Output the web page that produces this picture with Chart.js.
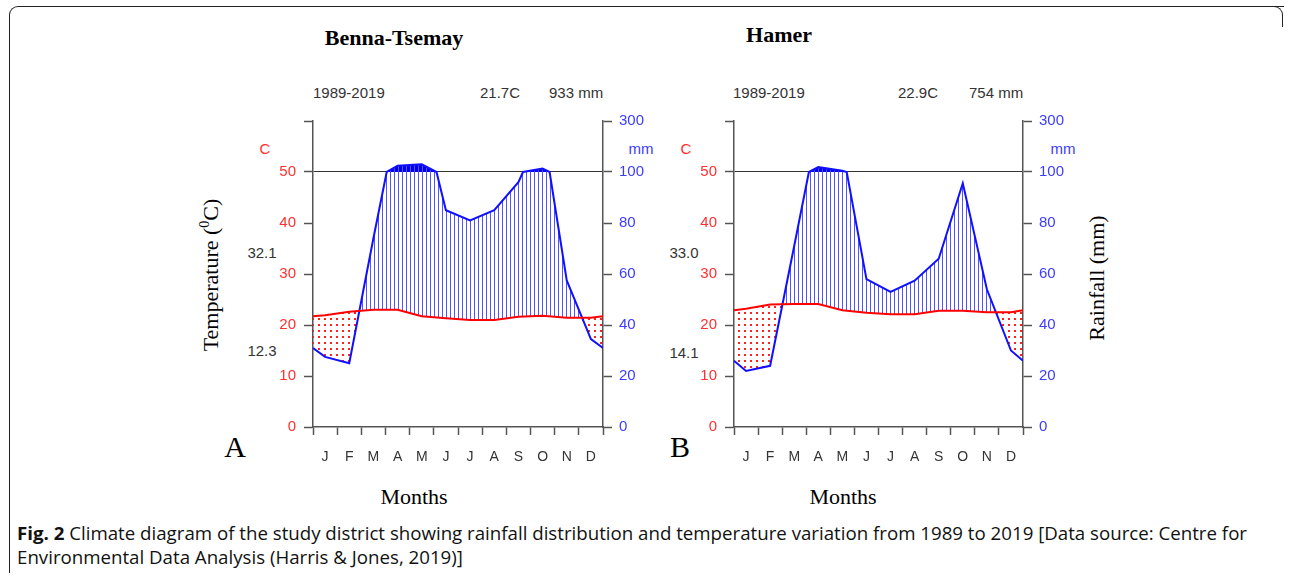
<!DOCTYPE html>
<html>
<head>
<meta charset="utf-8">
<script src="https://cdn.jsdelivr.net/npm/chart.js@4.4.0/dist/chart.umd.min.js"></script>
<style>
  html, body { margin: 0; padding: 0; background: #fff; }
  #page { position: relative; width: 1290px; height: 578px; overflow: hidden; font-family: "Liberation Sans", Arial, sans-serif; }
  .abs { position: absolute; white-space: nowrap; line-height: 1; }
  .c { transform: translate(-50%, -50%); }
  .l { transform: translate(0, -50%); }
  .serif { font-family: "Liberation Serif", "Times New Roman", serif; color: #000; }
  .info { font-size: 15px; color: #333; }
  .red { color: #ff3030; font-size: 15px; }
  .blue { color: #3c3cff; font-size: 15px; }
  .grey { color: #333; font-size: 15px; }
  canvas { position: absolute; }
  #box { position: absolute; left: 9px; top: 6px; width: 1274px; height: 566px; border: 1.5px solid #222; border-right: none; border-bottom: none; border-radius: 9px 0 0 0; }
  #boxR { position: absolute; left: 1262px; top: 6px; width: 20px; height: 20px; border-top: 1.5px solid #222; border-right: 1.5px solid #222; border-radius: 0 9px 0 0; }
  .cap { font-family: "Open Sans", sans-serif; font-size: 18.5px; color: #111; transform-origin: left center; }
</style>
</head>
<body>
<div id="page">
  <div id="box"></div>
  <div id="boxR"></div>

  <div class="abs c serif" style="left:394px;top:38px;font-size:22px;font-weight:bold">Benna-Tsemay</div>
  <div class="abs c serif" style="left:779px;top:35px;font-size:22px;font-weight:bold">Hamer</div>

  <div class="abs l info" style="left:313px;top:92px">1989-2019</div>
  <div class="abs l info" style="left:480px;top:92px">21.7C</div>
  <div class="abs l info" style="left:549px;top:92px">933 mm</div>
  <div class="abs l info" style="left:733px;top:92px">1989-2019</div>
  <div class="abs l info" style="left:898px;top:92px">22.9C</div>
  <div class="abs l info" style="left:969px;top:92px">754 mm</div>

  <div class="abs c red" style="left:265px;top:148px">C</div>
  <div class="abs c blue" style="left:641px;top:148px">mm</div>
  <div class="abs c red" style="left:686px;top:148px">C</div>
  <div class="abs c blue" style="left:1063px;top:148px">mm</div>

  <div class="abs c grey" style="left:262px;top:252px">32.1</div>
  <div class="abs c grey" style="left:262px;top:350px">12.3</div>
  <div class="abs c grey" style="left:684px;top:252px">33.0</div>
  <div class="abs c grey" style="left:684px;top:352px">14.1</div>

  <div class="abs serif" style="left:210px;top:275px;font-size:22px;transform:translate(-50%,-50%) rotate(-90deg)">Temperature (<sup style="font-size:14px">0</sup>C)</div>
  <div class="abs serif" style="left:1097px;top:278px;font-size:22px;transform:translate(-50%,-50%) rotate(-90deg)">Rainfall (mm)</div>

  <div class="abs c serif" style="left:235px;top:447px;font-size:30px">A</div>
  <div class="abs c serif" style="left:680px;top:447px;font-size:30px">B</div>
  <div class="abs c serif" style="left:414px;top:497px;font-size:22px">Months</div>
  <div class="abs c serif" style="left:843px;top:497px;font-size:22px">Months</div>

  <canvas id="chartA"></canvas>
  <canvas id="chartB"></canvas>

  <div id="cap1" class="abs l cap" style="left:17px;top:533px"><b>Fig. 2</b> Climate diagram of the study district showing rainfall distribution and temperature variation from 1989 to 2019 [Data source: Centre for</div>
  <div id="cap2" class="abs l cap" style="left:17px;top:557px">Environmental Data Analysis (Harris &amp; Jones, 2019)]</div>
</div>

<script>
// Climate diagrams (Walter-Lieth style)
const months = ['J', 'F', 'M', 'A', 'M', 'J', 'J', 'A', 'S', 'O', 'N', 'D'];
const rainTickLabels = ['0', '20', '40', '60', '80', '100', '300'];

// Benna-Tsemay
const tempA = [21.9, 22.6, 23.0, 23.0, 21.7, 21.3, 21.0, 21.0, 21.6, 21.8, 21.4, 21.4];
const rainA = [27.5, 25, 74, 125, 130, 85, 81, 85, 96, 114, 57.5, 34.5];
const tempEdgeA = 21.7;
const rainEdgeA = 31;
// where the rain curve meets the 100 mm line (month units)
const rainCrossA = [3.05, 5.11, 8.69, 9.79];

// Hamer
const tempB = [23.2, 24.0, 24.1, 24.1, 22.9, 22.4, 22.1, 22.1, 22.8, 22.8, 22.5, 22.5];
const rainB = [22, 24, 71, 119, 105, 58, 53, 57.4, 66, 95.6, 54, 30];
const tempEdgeB = 22.9;
const rainEdgeB = 26;
const rainCrossB = [3.11, 4.68];

// rainfall axis: 2 mm per degree up to 100 mm, then compressed (100..300 mm over 10 deg)
const rainToAxis = mm => mm <= 100 ? mm / 2 : 50 + (mm - 100) / 20;
const same = v => v;

function series(edge, vals, map, cross) {
    const pts = [{ x: 0, y: map(edge) }];
    vals.forEach((v, i) => pts.push({ x: i + 0.5, y: map(v) }));
    pts.push({ x: 12, y: map(edge) });
    (cross || []).forEach(x => pts.push({ x: x, y: map(100) }));
    return pts.sort((a, b) => a.x - b.x);
}

function hatch() {
    const c = document.createElement('canvas');
    c.width = 4; c.height = 4;
    const g = c.getContext('2d');
    g.fillStyle = '#5252ff';
    g.fillRect(0, 0, 1, 4);
    return g.createPattern(c, 'repeat');
}

function dots() {
    const c = document.createElement('canvas');
    c.width = 6; c.height = 6;
    const g = c.getContext('2d');
    g.fillStyle = '#ff2020';
    g.fillRect(2, 2, 2, 2);
    return g.createPattern(c, 'repeat');
}

// plot area: 306 px tall so the 100 mm line sits on a whole pixel
const CANVAS_TOP = 100, CANVAS_W = 480, CANVAS_H = 370;
const AREA_TOP = 121, AREA_BOTTOM = 427;
const Y_LEFT_W = 60, Y_RIGHT_W = 50, X_H = 40;

function makeChart(id, canvasLeft, areaLeft, areaRight, temps, tempEdge, rains, rainEdge, rainCross) {
    const cv = document.getElementById(id);
    cv.width = CANVAS_W; cv.height = CANVAS_H;
    cv.style.left = canvasLeft + 'px';
    cv.style.top = CANVAS_TOP + 'px';
    cv.style.width = CANVAS_W + 'px';
    cv.style.height = CANVAS_H + 'px';

    const monthW = (areaRight - areaLeft) / 12;
    const rainPts = series(rainEdge, rains, rainToAxis, rainCross);
    const axisCol = '#555';

    return new Chart(cv.getContext('2d'), {
        type: 'line',
        data: {
            datasets: [
                { label: 'Temperature', data: series(tempEdge, temps, same), borderColor: '#ff0000', borderWidth: 2, pointRadius: 0, fill: false, tension: 0 },
                { label: 'Rainfall', data: rainPts, borderColor: '#1010ff', borderWidth: 2, pointRadius: 0, tension: 0,
                  fill: { target: 0, above: hatch(), below: dots() } },
                { label: 'Rainfall > 100', data: rainPts, borderWidth: 0, borderColor: 'rgba(0,0,0,0)', pointRadius: 0, tension: 0,
                  fill: { target: { value: 50 }, above: '#0000ee', below: 'rgba(0,0,0,0)' } }
            ]
        },
        options: {
            responsive: false,
            animation: false,
            layout: {
                padding: {
                    left: areaLeft - canvasLeft - Y_LEFT_W,
                    right: CANVAS_W - (areaRight - canvasLeft) - Y_RIGHT_W,
                    top: AREA_TOP - CANVAS_TOP,
                    bottom: CANVAS_H - (AREA_BOTTOM - CANVAS_TOP) - X_H
                }
            },
            plugins: { legend: { display: false }, tooltip: { enabled: false } },
            scales: {
                x: {
                    type: 'linear', min: 0, max: 12,
                    afterFit: s => { s.height = X_H; },
                    ticks: {
                        stepSize: 1, autoSkip: false, maxRotation: 0, labelOffset: monthW / 2, padding: 14,
                        color: '#333', font: { size: 14, family: 'Liberation Sans' },
                        callback: v => months[v] || ''
                    },
                    grid: { drawOnChartArea: false, tickLength: 8, tickColor: axisCol, tickWidth: 1.5 },
                    border: { display: true, color: axisCol, width: 1.5 }
                },
                y: {
                    position: 'left', min: 0, max: 60,
                    afterFit: s => { s.width = Y_LEFT_W; },
                    ticks: {
                        stepSize: 10, padding: 8, color: '#ff3030', font: { size: 15, family: 'Liberation Sans' },
                        callback: v => v === 60 ? '' : v
                    },
                    grid: {
                        drawOnChartArea: true, tickLength: 9, tickColor: axisCol, tickWidth: 1.5, lineWidth: 1,
                        color: c => c.tick && c.tick.value === 50 ? '#333333' : 'rgba(0,0,0,0)'
                    },
                    border: { display: true, color: axisCol, width: 1.5 }
                },
                y2: {
                    position: 'right', min: 0, max: 60,
                    afterFit: s => { s.width = Y_RIGHT_W; },
                    ticks: {
                        stepSize: 10, padding: 7, color: '#3c3cff', font: { size: 15, family: 'Liberation Sans' },
                        callback: v => rainTickLabels[Math.round(v / 10)]
                    },
                    grid: { drawOnChartArea: false, tickLength: 9, tickColor: axisCol, tickWidth: 1.5 },
                    border: { display: true, color: axisCol, width: 1.5 }
                }
            }
        }
    });
}

makeChart('chartA', 190, 313, 603, tempA, tempEdgeA, rainA, rainEdgeA, rainCrossA);
makeChart('chartB', 610, 734, 1023, tempB, tempEdgeB, rainB, rainEdgeB, rainCrossB);

// caption is a condensed face in the figure: squeeze both lines by the same factor
const cap1 = document.getElementById('cap1');
const cap2 = document.getElementById('cap2');
const k = 1230 / cap1.getBoundingClientRect().width;
[cap1, cap2].forEach(el => { el.style.transform = `translate(0, -50%) scaleX(${k})`; });
</script>
</body>
</html>
